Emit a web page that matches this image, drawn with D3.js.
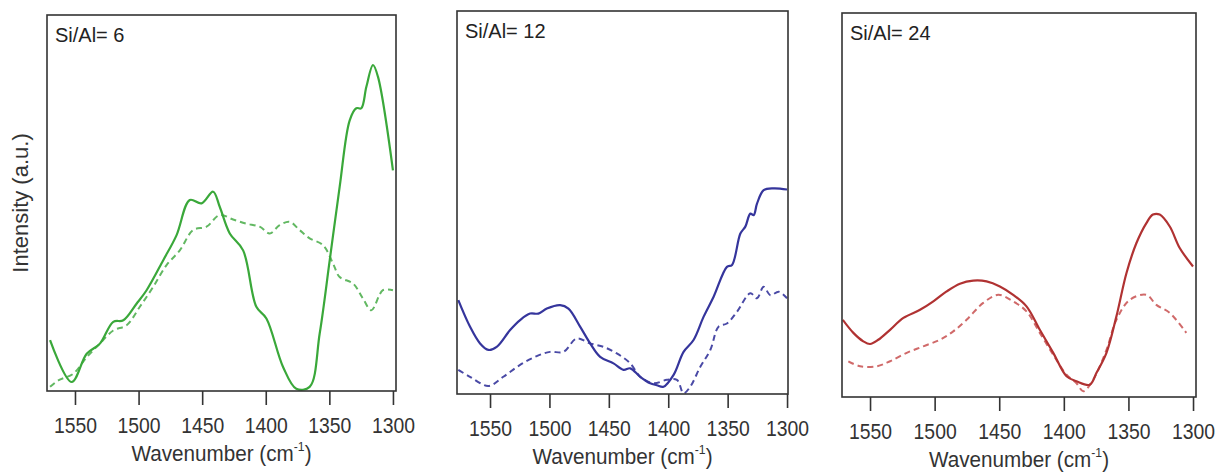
<!DOCTYPE html>
<html lang="en">
<head>
<meta charset="UTF-8">
<title>Si/Al spectra</title>
<style>
  body { margin: 0; padding: 0; background: #fff; font-family: "Liberation Sans", Arial, sans-serif; }
  .frame { fill: none; stroke: #333; stroke-width: 1.6px; }
  .axis path { display: none; }
  .axis line { stroke: #333; stroke-width: 1.6px; }
  .axis text { font-size: 22px; fill: #333; }
  .label { font-size: 22px; fill: #333; }
  .title { font-size: 20px; fill: #222; }
</style>
</head>
<body>
<div id="chart"></div>
<script src="https://d3js.org/d3.v7.min.js"></script>
<script>
// tick labels shared by the three panels
const xTicks = [1550, 1500, 1450, 1400, 1350, 1300];
const panelTitles = ["Si/Al= 6", "Si/Al= 12", "Si/Al= 24"];
const xLabel = "Wavenumber (cm";
const yLabel = "Intensity (a.u.)";

// series: [wavenumber, intensity (arbitrary, 0-100)]
const si6Solid = [[1569.6,13.5],[1552.6,2.4],[1540.8,9.9],[1530.4,12.6],[1519.9,18.4],[1512,18.8],[1501.6,23.2],[1493.7,26.8],[1480.6,34.8],[1470.2,41.4],[1459.7,50.8],[1450.5,49.9],[1441.4,53],[1436.2,49],[1428.3,41.9],[1417.8,37.4],[1407.4,22.4],[1399.5,19.3],[1386.4,6.4],[1376,0.6],[1365.5,1.1],[1357.6,15.3],[1349.7,34.8],[1341.9,54.3],[1334,72],[1328.8,75.2],[1324.9,75.2],[1320.9,80.9],[1315.7,86.7],[1311.8,83.6],[1300,58.7]];
const si6Dash = [[1569.6,1.1],[1563.1,2.8],[1551.3,4.6],[1540.8,9],[1530.4,12.6],[1519.9,16.1],[1509.4,17.5],[1499,22.4],[1488.5,27.7],[1478,33.5],[1467.6,37.4],[1457.1,42.8],[1446.6,43.7],[1436.2,46.8],[1425.7,45.6],[1415.2,44.5],[1404.8,43.7],[1396.9,41.9],[1389.1,44.1],[1381.2,45],[1373.4,42.8],[1365.5,40.6],[1355,38.8],[1347.1,33.9],[1341.9,30.3],[1331.4,28.6],[1323.6,24.6],[1317,21.5],[1307.9,26.8],[1300,26.8]];
const si12Solid = [[1576.7,24.5],[1566.9,17.6],[1558.4,13.2],[1551.4,11.5],[1544.4,12.3],[1533.1,16.7],[1524.7,19.3],[1516.3,21],[1509.3,21],[1502.2,22.3],[1491,23.2],[1484,22.3],[1474.2,17.6],[1465.7,13.2],[1457.3,9.7],[1446.1,8],[1437.6,6.3],[1432,6.7],[1423.6,4.5],[1415.2,2.8],[1409.6,2.3],[1404,1.9],[1395.5,5],[1387.1,11],[1378.7,14.1],[1370.2,20.2],[1361.8,25.4],[1350.6,33.2],[1346.3,33.7],[1339.3,41.9],[1335.1,43.7],[1330.9,47.1],[1328.1,46.7],[1325.3,49.7],[1319.7,53.2],[1311.2,53.7],[1300,53.4]];
const si12Dash = [[1576.7,6.3],[1566.9,4.5],[1551.4,2.1],[1538.8,4.5],[1524.7,7.6],[1510.7,9.9],[1499.4,11],[1488.2,11],[1477,14.5],[1465.7,13.2],[1454.5,12.3],[1443.3,10.6],[1432,8],[1423.6,4.5],[1412.4,2.8],[1401.1,3.7],[1392.7,3.7],[1387.1,0.2],[1381.5,1.9],[1373,7.1],[1364.6,11.5],[1357.6,17.6],[1350.6,18.4],[1342.1,21.5],[1330.9,26.3],[1325.3,25],[1319.7,28],[1314,25.8],[1307,26.7],[1300,25]];
const si24Solid = [[1571.1,20.1],[1562.9,16.7],[1555.2,14.5],[1550,13.8],[1543.6,14.9],[1534.5,17.5],[1524.2,20.6],[1511.3,22.7],[1501,24.9],[1490.7,27.5],[1480.4,29.5],[1470.1,30.3],[1459.8,30.1],[1449.5,28.8],[1439.2,26.6],[1428.9,23.6],[1418.6,17.5],[1408.2,11.5],[1397.9,5.4],[1390.2,4.1],[1379.9,3.2],[1374.7,6.3],[1367,11.5],[1359.3,21],[1351.5,32.3],[1343.8,40.1],[1336.1,45.3],[1331,47.5],[1325.8,47.5],[1318,44.4],[1310.3,38.8],[1300,34]];
const si24Dash = [[1566.8,9.3],[1557.7,8],[1544.8,8],[1534.5,9.3],[1521.6,11.5],[1508.8,13.2],[1495.9,14.9],[1485.6,17.1],[1475.3,20.1],[1462.4,24.5],[1450.8,26.6],[1439.2,24.9],[1428.9,22.3],[1418.6,16.7],[1408.2,11],[1397.9,5.8],[1390.2,3.6],[1385,1.5],[1377.3,4.5],[1367,12.3],[1359.3,20.1],[1349,25.3],[1336.1,26.6],[1328.4,24],[1318,21.9],[1305.2,16.7]];

const xDomains = [[1572, 1297.6], [1577.8, 1299.2], [1571.7, 1297.7]];

const panels = [
  { left: 47,  top: 15, right: 396,  bottom: 391, solid: si6Solid,  dash: si6Dash,  color: "#3aa83a", dashColor: "#62b862" },
  { left: 457, top: 11, right: 788,  bottom: 394, solid: si12Solid, dash: si12Dash, color: "#35359c", dashColor: "#4a4aa6" },
  { left: 842, top: 13, right: 1196, bottom: 397, solid: si24Solid, dash: si24Dash, color: "#b03232", dashColor: "#d06a6a" }
];

const svg = d3.select("#chart").append("svg")
  .attr("width", 1217)
  .attr("height", 473);

const defs = svg.append("defs");

panels.forEach((p, i) => {
  const x = d3.scaleLinear().domain(xDomains[i]).range([p.left, p.right]);
  const y = d3.scaleLinear().domain([0, 100]).range([p.bottom, p.top]);

  defs.append("clipPath").attr("id", "clip" + i)
    .append("rect")
    .attr("x", p.left).attr("y", p.top - 2)
    .attr("width", p.right - p.left).attr("height", p.bottom - p.top + 4);

  const g = svg.append("g");

  const line = d3.line()
    .x(d => x(d[0]))
    .y(d => y(d[1]))
    .curve(d3.curveCatmullRom.alpha(0.5));

  const plot = g.append("g").attr("clip-path", `url(#clip${i})`);

  plot.append("path")
    .datum(p.dash)
    .attr("d", line)
    .attr("fill", "none")
    .attr("stroke", p.dashColor)
    .attr("stroke-width", 2)
    .attr("stroke-dasharray", "6,4");

  plot.append("path")
    .datum(p.solid)
    .attr("d", line)
    .attr("fill", "none")
    .attr("stroke", p.color)
    .attr("stroke-width", 2.2);

  g.append("rect")
    .attr("class", "frame")
    .attr("x", p.left).attr("y", p.top)
    .attr("width", p.right - p.left)
    .attr("height", p.bottom - p.top);

  const axis = g.append("g")
    .attr("class", "axis")
    .attr("transform", `translate(0,${p.bottom})`)
    .call(d3.axisBottom(x).tickValues(xTicks).tickSize(14).tickPadding(12).tickFormat(d3.format("d")));
  axis.selectAll("text").attr("transform", "scale(0.88,1)");

  g.append("text")
    .attr("class", "title")
    .attr("x", p.left + 8)
    .attr("y", p.top + 27)
    .text(panelTitles[i]);

  const cx = (p.left + p.right) / 2;
  const lab = g.append("text")
    .attr("class", "label")
    .attr("text-anchor", "middle")
    .attr("transform", `translate(${cx},${p.bottom + 70}) scale(0.94,1)`);
  lab.append("tspan").text(xLabel);
  lab.append("tspan").attr("font-size", 13).attr("dy", -10).text("-1");
  lab.append("tspan").attr("dy", 10).text(")");
});

svg.append("text")
  .attr("class", "label")
  .attr("font-size", 23)
  .attr("text-anchor", "middle")
  .attr("transform", `translate(28,203) rotate(-90)`)
  .text(yLabel);
</script>
</body>
</html>
